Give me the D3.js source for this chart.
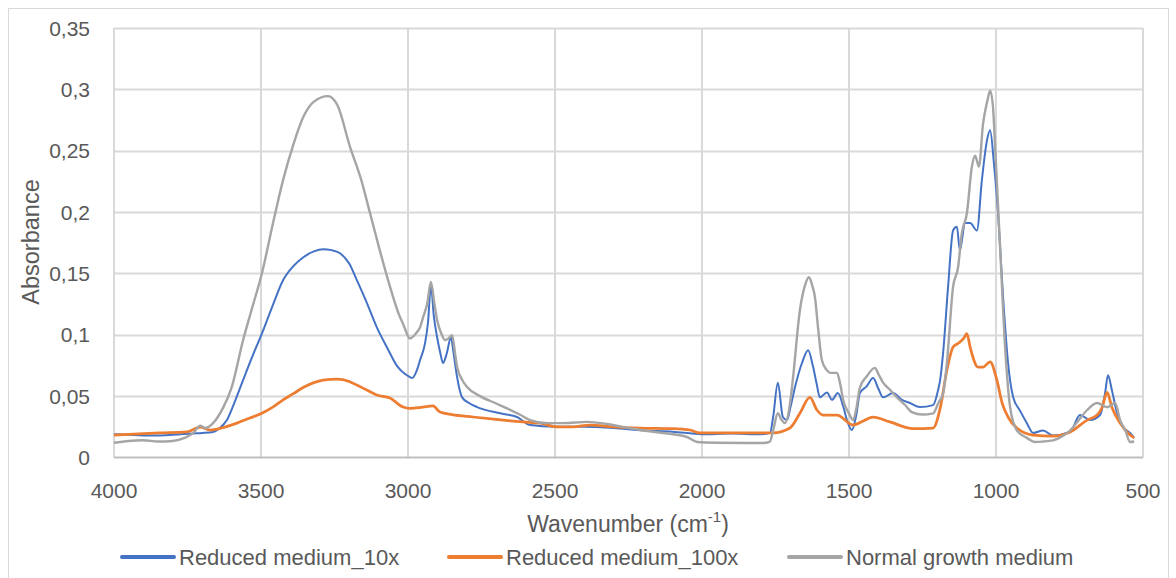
<!DOCTYPE html>
<html><head><meta charset="utf-8">
<script src="https://cdn.jsdelivr.net/npm/d3@7"></script>
<style>body{margin:0;background:#fff}svg{display:block}text{font-family:"Liberation Sans",Arial,sans-serif;fill:#595959}</style>
</head><body><svg id="c" width="1176" height="578"></svg>
<script>
const xTicks = [4000,3500,3000,2500,2000,1500,1000,500];
const yTicks = [0,0.05,0.1,0.15,0.2,0.25,0.3,0.35];
const yTickLabels = ["0","0,05","0,1","0,15","0,2","0,25","0,3","0,35"];
const seriesNames = ["Reduced medium_10x","Reduced medium_100x","Normal growth medium"];
const seriesColors = ["#4472C4","#ED7D31","#A5A5A5"];

const blueWn = [4000,3950,3900,3850,3800,3731,3700,3663,3640,3616,3590,3561,3530,3497,3460,3425,3390,3357,3320,3289,3260,3231,3200,3174,3140,3106,3070,3037,3010,2993,2986,2970,2959,2942,2932,2922,2912,2901,2890,2881,2868,2854,2845,2833,2816,2790,2765,2687,2629,2585,2500,2400,2300,2200,2100,2000,1900,1800,1769,1758,1742,1725,1711,1700,1684,1660,1639,1622,1610,1599,1575,1558,1538,1520,1507,1490,1475,1463,1440,1418,1400,1384,1350,1320,1293,1259,1214,1197,1190,1180,1163,1146,1133,1123,1105,1088,1065,1048,1031,1020,1007,993,976,959,942,918,895,874,840,806,748,714,680,646,629,619,606,588,568,544,530];
const blueAbs = [0.019,0.0185,0.018,0.018,0.0185,0.0196,0.020,0.0208,0.024,0.0305,0.045,0.063,0.082,0.101,0.124,0.1445,0.156,0.163,0.168,0.1697,0.169,0.1664,0.158,0.1445,0.126,0.106,0.089,0.0745,0.068,0.0655,0.0647,0.071,0.0794,0.0932,0.110,0.140,0.115,0.098,0.085,0.077,0.085,0.098,0.085,0.0655,0.049,0.044,0.0411,0.036,0.033,0.0264,0.025,0.025,0.024,0.022,0.021,0.019,0.0195,0.019,0.0199,0.033,0.061,0.033,0.0305,0.040,0.057,0.077,0.0875,0.0737,0.060,0.049,0.053,0.047,0.0525,0.042,0.0305,0.0224,0.035,0.0525,0.058,0.0647,0.056,0.049,0.0525,0.047,0.0444,0.0411,0.0427,0.055,0.063,0.085,0.139,0.185,0.188,0.169,0.191,0.191,0.185,0.226,0.258,0.2666,0.2397,0.199,0.131,0.077,0.0495,0.038,0.028,0.020,0.022,0.018,0.0208,0.0346,0.0305,0.0346,0.0525,0.067,0.055,0.036,0.025,0.020,0.016];

const orangeWn = [4000,3900,3843,3752,3707,3673,3620,3582,3540,3497,3460,3425,3390,3357,3320,3289,3241,3200,3174,3140,3106,3061,3017,2993,2950,2915,2891,2850,2779,2700,2609,2551,2493,2439,2381,2300,2211,2100,2041,2007,1900,1800,1758,1701,1667,1633,1609,1588,1541,1486,1450,1418,1361,1282,1214,1190,1167,1146,1129,1110,1099,1088,1061,1044,1020,997,979,959,929,874,806,748,690,656,639,622,606,578,544,530];
const orangeAbs = [0.0183,0.0195,0.020,0.0208,0.0248,0.0224,0.025,0.028,0.032,0.036,0.041,0.047,0.052,0.057,0.061,0.063,0.0639,0.062,0.059,0.055,0.051,0.0484,0.0411,0.040,0.041,0.042,0.037,0.035,0.033,0.031,0.029,0.028,0.025,0.025,0.0264,0.025,0.024,0.0235,0.0224,0.020,0.020,0.020,0.020,0.024,0.036,0.049,0.0387,0.0346,0.0346,0.0264,0.030,0.033,0.029,0.0235,0.024,0.040,0.0712,0.090,0.093,0.097,0.101,0.090,0.0737,0.0737,0.078,0.063,0.0444,0.033,0.024,0.0183,0.0175,0.0208,0.0305,0.0346,0.041,0.053,0.041,0.028,0.0183,0.016];

const grayWn = [4000,3950,3900,3850,3800,3760,3730,3707,3690,3663,3630,3600,3561,3530,3497,3460,3425,3390,3357,3320,3272,3240,3197,3160,3129,3095,3061,3030,3017,2993,2970,2959,2949,2935,2922,2910,2901,2885,2874,2862,2850,2840,2833,2815,2799,2755,2700,2663,2620,2585,2527,2470,2391,2303,2250,2200,2133,2051,2017,1950,1850,1792,1769,1758,1742,1730,1718,1700,1690,1667,1650,1636,1625,1616,1605,1592,1575,1565,1541,1530,1520,1500,1486,1475,1463,1440,1412,1400,1384,1360,1337,1310,1286,1250,1214,1195,1180,1167,1146,1129,1116,1099,1082,1071,1058,1044,1030,1020,1010,1003,986,969,952,929,895,867,840,806,770,748,720,690,656,622,595,578,560,544,530];
const grayAbs = [0.012,0.0135,0.014,0.013,0.0135,0.016,0.020,0.026,0.024,0.028,0.040,0.057,0.0956,0.122,0.150,0.190,0.226,0.255,0.277,0.290,0.2945,0.287,0.253,0.227,0.199,0.168,0.139,0.116,0.109,0.097,0.102,0.106,0.114,0.125,0.143,0.125,0.112,0.100,0.0956,0.097,0.0997,0.085,0.0737,0.063,0.0574,0.050,0.044,0.040,0.035,0.0305,0.028,0.028,0.029,0.0265,0.024,0.022,0.020,0.0167,0.0126,0.012,0.0118,0.0118,0.013,0.022,0.036,0.031,0.028,0.045,0.066,0.12,0.140,0.147,0.140,0.131,0.105,0.079,0.071,0.069,0.069,0.060,0.047,0.036,0.0305,0.040,0.057,0.066,0.073,0.068,0.061,0.055,0.049,0.043,0.037,0.035,0.036,0.045,0.052,0.077,0.139,0.155,0.183,0.199,0.237,0.246,0.237,0.272,0.290,0.299,0.285,0.253,0.171,0.090,0.041,0.022,0.016,0.0126,0.013,0.014,0.018,0.022,0.030,0.0387,0.0444,0.041,0.0444,0.0305,0.022,0.0126,0.013];

const svg = d3.select("#c");
const L = 114, R = 1143, T = 28, B = 457.5;
const x = d3.scaleLinear().domain([4000,500]).range([L,R]);
const y = d3.scaleLinear().domain([0,0.35]).range([B,T]);

// outer border
svg.append("rect").attr("x",8.5).attr("y",8.5).attr("width",1160).attr("height",600)
  .attr("fill","none").attr("stroke","#D9D9D9").attr("stroke-width",1);

// gridlines
const g = svg.append("g");
g.selectAll(".hg").data(yTicks.slice(1)).join("line")
  .attr("x1",L).attr("x2",R).attr("y1",d=>Math.round(y(d))+0.5).attr("y2",d=>Math.round(y(d))+0.5)
  .attr("stroke","#D9D9D9").attr("stroke-width",2);
g.selectAll(".vg").data(xTicks).join("line")
  .attr("x1",d=>x(d)).attr("x2",d=>x(d)).attr("y1",T).attr("y2",B)
  .attr("stroke","#D9D9D9").attr("stroke-width",2);
g.append("line").attr("x1",L).attr("x2",R).attr("y1",B).attr("y2",B)
  .attr("stroke","#BFBFBF").attr("stroke-width",2);

// tick labels
svg.append("g").selectAll("text").data(yTicks).join("text")
  .attr("x",90).attr("y",d=>y(d)).attr("text-anchor","end").attr("dominant-baseline","central")
  .style("font-size","21px").text((d,i)=>yTickLabels[i]);
svg.append("g").selectAll("text").data(xTicks).join("text")
  .attr("x",d=>x(d)).attr("y",490).attr("text-anchor","middle").attr("dominant-baseline","central")
  .style("font-size","21px").text(d=>d);

// axis titles
svg.append("text").attr("transform","translate(31,242) rotate(-90)").attr("text-anchor","middle")
  .attr("dominant-baseline","central").style("font-size","23.5px").text("Absorbance");
const xt = svg.append("text").attr("x",628).attr("y",524).attr("text-anchor","middle")
  .attr("dominant-baseline","central").style("font-size","23px");
xt.append("tspan").text("Wavenumber (cm");
xt.append("tspan").attr("dy",-8).style("font-size","15px").text("-1");
xt.append("tspan").attr("dy",8).text(")");

// series
const line = d3.line().x(d=>x(d[0])).y(d=>y(d[1])).curve(d3.curveMonotoneX);
const series = [
  {wn: blueWn, ab: blueAbs, w: 2},
  {wn: orangeWn, ab: orangeAbs, w: 2.75},
  {wn: grayWn, ab: grayAbs, w: 2.4}
];
const plot = svg.append("g");
series.forEach((s,i)=>{
  const pts = s.wn.map((w,k)=>[w,s.ab[k]]);
  plot.append("path").datum(pts).attr("d",line).attr("fill","none")
    .attr("stroke",seriesColors[i]).attr("stroke-width",s.w).attr("stroke-linejoin","round");
});

// legend
const legX = [122,449,789];
const leg = svg.append("g");
seriesNames.forEach((n,i)=>{
  leg.append("line").attr("x1",legX[i]).attr("x2",legX[i]+52).attr("y1",557).attr("y2",557)
    .attr("stroke",seriesColors[i]).attr("stroke-width",4).attr("stroke-linecap","round");
  leg.append("text").attr("x",legX[i]+57).attr("y",557).attr("dominant-baseline","central")
    .style("font-size","22px").text(n);
});
</script></body></html>
